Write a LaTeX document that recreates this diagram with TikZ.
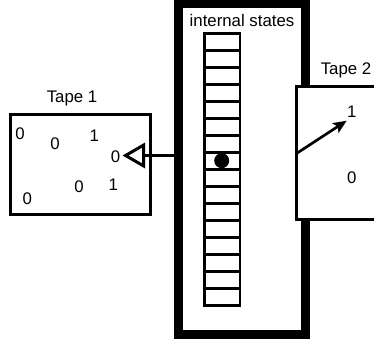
\documentclass[tikz,border=0pt]{standalone}
\usepackage{fontspec}
\setmainfont{Liberation Sans}
\usetikzlibrary{arrows.meta}
\begin{document}
\begin{tikzpicture}[x=0.75pt,y=-0.75pt,
  lbl/.style={font=\fontsize{12.6}{14}\selectfont, inner sep=0pt},
  frame/.style={draw, line width=7.1pt, fill=white, inner sep=0pt},
  tapebox/.style={draw, line width=2.25pt, fill=white, inner sep=0pt},
  cell/.style={draw, line width=2.2pt, inner sep=0pt, minimum width=35.5*0.75pt, minimum height=17*0.75pt},
  headdot/.style={circle, fill=black, inner sep=0pt, minimum size=15*0.75pt}]
\useasboundingbox (0,0) rectangle (374,345);
% machine frame
\node[frame, minimum width=127*0.75pt, minimum height=331.5*0.75pt] (machine) at (242,168.75) {};
\node[lbl] (states) at (242,20) {internal states};
\foreach \i in {0,...,15}{
  \node[cell] (c\i) at (222.25,{33.3+17*(\i+0.5)}) {};
}
\node[headdot] (dot) at (221.7,160.7) {};
% tape 1
\node[tapebox, minimum width=139.5*0.75pt, minimum height=100*0.75pt] (tape1) at (80.25,164.5) {};
\node[lbl] (t1) at (72,98) {Tape 1};
\node[lbl] (d1) at (20,133.3) {0};
\node[lbl] (d2) at (55,144) {0};
\node[lbl] (d3) at (94.3,136) {1};
\node[lbl] (d4) at (115.5,156.5) {0};
\node[lbl] (d5) at (79,186.7) {0};
\node[lbl] (d6) at (113.3,184.3) {1};
\node[lbl] (d7) at (27.3,199) {0};
\coordinate (h1) at (122.5,155.5);
\draw[line width=2.25pt, -{Triangle[open, length=17pt, width=19pt]}] (machine.west |- h1) -- (h1);
% tape 2
\node[tapebox, minimum width=103.5*0.75pt, minimum height=133*0.75pt] (tape2) at (348.25,153) {};
\node[lbl] (t2) at (346,70) {Tape 2};
\node[lbl] (e1) at (351.7,111.7) {1};
\node[lbl] (e2) at (351.7,177.3) {0};
\coordinate (s2) at (296.8,153.3);
\coordinate (h2) at (346.7,120.7);
\draw[line width=2pt, -{Stealth[length=10pt, width=8.5pt, inset=2pt]}] (s2) -- (h2);
\end{tikzpicture}
\end{document}
